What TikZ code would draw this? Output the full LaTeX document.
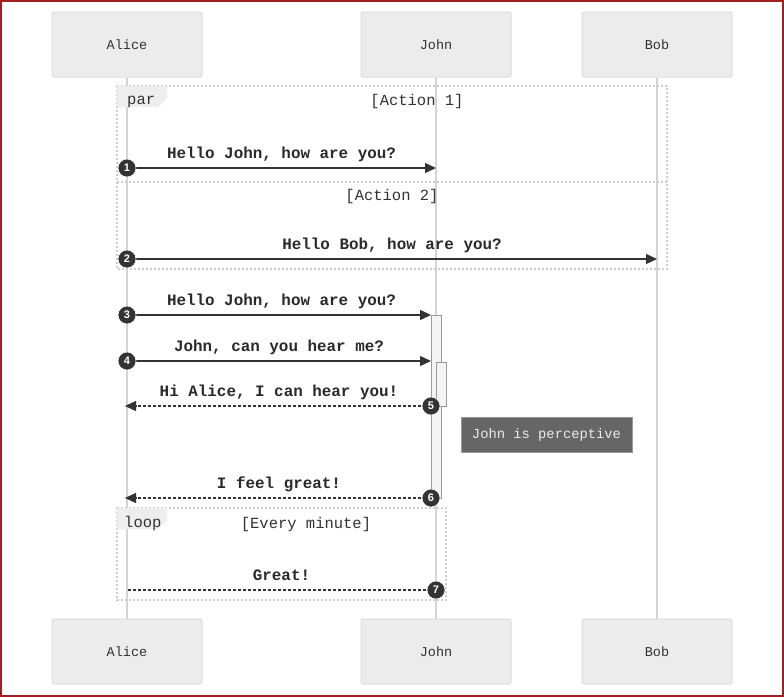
\documentclass[tikz,border=0pt]{standalone}
\usepackage{fontspec}
\setmonofont{Liberation Mono}
\setsansfont{Liberation Sans}
\usetikzlibrary{arrows.meta}
\definecolor{ink}{HTML}{333333}
\definecolor{textink}{HTML}{2A2A2A}
\definecolor{boxfill}{HTML}{ECECEC}
\definecolor{boxline}{HTML}{DCDCDC}
\definecolor{lifeline}{HTML}{D4D4D4}
\definecolor{framecol}{HTML}{CDCDCD}
\definecolor{tabfill}{HTML}{EEEEEE}
\definecolor{actfill}{HTML}{F4F4F4}
\definecolor{actline}{HTML}{999999}
\definecolor{notefill}{HTML}{666666}
\definecolor{noteline}{HTML}{999999}
\definecolor{edge}{HTML}{A0201E}
\tikzset{
  actor/.style={draw=boxline, fill=boxfill, rounded corners=2pt, line width=1pt,
    minimum width=150pt, minimum height=65pt, inner sep=0pt,
    font=\ttfamily\fontsize{13.5}{16}\selectfont, text=ink},
  life/.style={draw=lifeline, line width=2pt},
  frameline/.style={draw=framecol, line width=1.2pt, dash pattern=on 2pt off 2pt},
  tabshape/.style={fill=tabfill},
  tablabel/.style={font=\ttfamily\fontsize{15.5}{18}\selectfont, text=ink, anchor=base west, inner sep=0pt},
  guard/.style={font=\ttfamily\fontsize{15.5}{18}\selectfont, text=ink, anchor=base, inner sep=0pt},
  msg/.style={draw=ink, line width=1.3pt, -{Triangle[length=11pt,width=10pt]}},
  reply/.style={draw=ink, line width=1.3pt, dash pattern=on 3pt off 2pt, -{Triangle[length=11pt,width=10pt]}},
  replyplain/.style={draw=ink, line width=1.3pt, dash pattern=on 3pt off 2pt},
  msglabel/.style={font=\ttfamily\bfseries\fontsize{15.9}{18}\selectfont, text=textink, anchor=base, inner sep=0pt},
  num/.style={circle, fill=ink, draw=white, line width=0.6pt, minimum size=18pt, inner sep=0pt,
    font=\sffamily\bfseries\fontsize{11}{11}\selectfont, text=white},
  activation/.style={draw=actline, fill=actfill, line width=1pt},
  note/.style={draw=noteline, fill=notefill, line width=1pt, minimum width=171pt, minimum height=35pt,
    inner sep=0pt, font=\ttfamily\fontsize{13.8}{16}\selectfont, text=white!92!black}
}
\begin{document}
\begin{tikzpicture}[x=1pt,y=-1pt]
\useasboundingbox (0,0) rectangle (784,697);
\fill[white] (0,0) rectangle (784,697);
\draw[edge, line width=2pt] (1,1) rectangle (783,696);

% participants, top and bottom
\node[actor] (aliceT) at (127,44.5) {Alice};
\node[actor] (johnT) at (436,44.5) {John};
\node[actor] (bobT) at (657,44.5) {Bob};
\node[actor] (aliceB) at (127,651.5) {Alice};
\node[actor] (johnB) at (436,651.5) {John};
\node[actor] (bobB) at (657,651.5) {Bob};

% lifelines
\draw[life] (aliceT.south) -- (aliceB.north);
\draw[life] (johnT.south) -- (johnB.north);
\draw[life] (bobT.south) -- (bobB.north);

% par fragment
\draw[frameline] (117,86) rectangle (667,269);
\draw[frameline] (117,182) -- (667,182);
\fill[tabshape] (117,86) -- (167,86) -- (167,98) -- (158,107) -- (117,107) -- cycle;
\node[tablabel] (parlbl) at (127,104) {par};
\node[guard] (g1) at (417,105) {[Action 1]};
\node[guard] (g2) at (392,200) {[Action 2]};

% loop fragment
\draw[frameline] (117,508) rectangle (446,600);
\fill[tabshape] (117,508) -- (167,508) -- (167,520) -- (158,529) -- (117,529) -- cycle;
\node[tablabel] (looplbl) at (124,527) {loop};
\node[guard] (g3) at (306,528) {[Every minute]};

% activation bars on John
\draw[activation] (431,315) rectangle (441,498);
\draw[activation] (436,362) rectangle (446,406);

% message anchor points
\coordinate (a1) at (127,168); \coordinate (j1) at (436,168);
\coordinate (a2) at (127,259); \coordinate (b2) at (657,259);
\coordinate (a3) at (127,315); \coordinate (j3) at (431,315);
\coordinate (a4) at (127,361); \coordinate (j4) at (431,361);
\coordinate (a5) at (125,406); \coordinate (j5) at (431,406);
\coordinate (a6) at (125,498); \coordinate (j6) at (431,498);
\coordinate (a7) at (127,590); \coordinate (j7) at (436,590);

% messages
\draw[msg] (a1) -- (j1);
\draw[msg] (a2) -- (b2);
\draw[msg] (a3) -- (j3);
\draw[msg] (a4) -- (j4);
\draw[reply] (j5) -- (a5);
\draw[reply] (j6) -- (a6);
\draw[replyplain] (j7) -- (a7);

% message texts
\node[msglabel] (t1) at (281.5,158) {Hello John, how are you?};
\node[msglabel] (t2) at (392,249) {Hello Bob, how are you?};
\node[msglabel] (t3) at (281.5,305) {Hello John, how are you?};
\node[msglabel] (t4) at (279,351) {John, can you hear me?};
\node[msglabel] (t5) at (279,396) {Hi Alice, I can hear you!};
\node[msglabel] (t6) at (279,488) {I feel great!};
\node[msglabel] (t7) at (281.5,580) {Great!};

% sequence numbers
\node[num] (n1) at (a1) {1};
\node[num] (n2) at (a2) {2};
\node[num] (n3) at (a3) {3};
\node[num] (n4) at (a4) {4};
\node[num] (n5) at (j5) {5};
\node[num] (n6) at (j6) {6};
\node[num] (n7) at (j7) {7};

% note
\node[note] (perc) at (546.5,434.5) {John is perceptive};
\end{tikzpicture}
\end{document}
